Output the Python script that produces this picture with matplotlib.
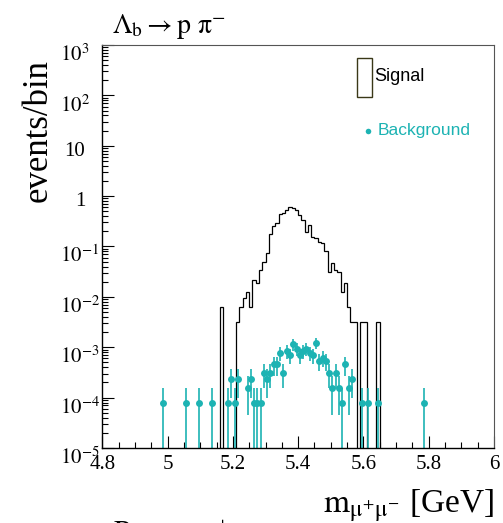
import numpy as np
import matplotlib
matplotlib.use('Agg')
import matplotlib.pyplot as plt
import matplotlib.transforms as mtrans
from matplotlib.patches import Rectangle
from matplotlib.ticker import FixedLocator, MultipleLocator, LogLocator, NullFormatter, FuncFormatter

# binning: 0.01 GeV bins from 4.8 to 6.0
m_lo = 4.8
m_hi = 6.0
bin_w = 0.01

# signal histogram (weighted), contiguous part starting at 5.21
sig_main_start = 5.21
sig_main = [0.0031, 0.0063, 0.0094, 0.0126, 0.0063, 0.0219, 0.0188, 0.034, 0.050, 0.073,
            0.18, 0.254, 0.29, 0.45, 0.47, 0.53, 0.60, 0.58, 0.52, 0.43,
            0.33, 0.19, 0.27, 0.157, 0.145, 0.122, 0.115, 0.08, 0.031, 0.047,
            0.034, 0.031, 0.0126, 0.019, 0.0063, 0.0031, 0.0031]
# isolated signal bins (lower edge, value)
sig_extra_mass = [5.16, 5.59, 5.60, 5.64]
sig_extra_vals = [0.0063, 0.0031, 0.0031, 0.0031]

# background: lower bin edge and raw counts, weight per event
bkg_mass = [4.98, 5.05, 5.09, 5.13, 5.18, 5.19, 5.20, 5.21,
            5.24, 5.25, 5.26, 5.27, 5.28, 5.29, 5.30, 5.31, 5.32, 5.33, 5.34,
            5.35, 5.36, 5.37, 5.38, 5.39, 5.40, 5.41, 5.42, 5.43, 5.44, 5.45,
            5.46, 5.47, 5.48, 5.49, 5.50, 5.51, 5.52, 5.53, 5.54, 5.55, 5.56,
            5.59, 5.61, 5.64, 5.78]
bkg_counts = [1, 1, 1, 1, 1, 3, 1, 3,
              2, 3, 1, 1, 1, 4, 3, 4, 6, 6, 10,
              4, 11, 9, 15, 12, 9, 11, 12, 10, 9, 16,
              7, 8, 7, 4, 2, 4, 2, 1, 6, 2, 3,
              1, 1, 1, 1]
bkg_weight = 7.7e-5

x_ticks = [4.8, 5.0, 5.2, 5.4, 5.6, 5.8, 6.0]
y_exps = [-5, -4, -3, -2, -1, 0, 1, 2, 3]

teal = '#1db3b3'

plt.rcParams['font.family'] = 'serif'
plt.rcParams['font.serif'] = ['Liberation Serif', 'DejaVu Serif']
plt.rcParams['mathtext.fontset'] = 'stix'

nb = int(round((m_hi - m_lo) / bin_w))
edges = m_lo + bin_w * np.arange(nb + 1)
sig = np.zeros(nb)
i0 = int(round((sig_main_start - m_lo) / bin_w))
sig[i0:i0 + len(sig_main)] = sig_main
for m, v in zip(sig_extra_mass, sig_extra_vals):
    sig[int(round((m - m_lo) / bin_w))] = v

fig = plt.figure(figsize=(5.03, 5.23), dpi=100)
ax = fig.add_axes([0.2034, 0.1434, 0.7787, 0.7706])

floor = 1e-9
ax.stairs(np.where(sig > 0, sig, floor), edges, baseline=floor, color='black', lw=0.9)

bx = np.array(bkg_mass) + bin_w / 2
n = np.array(bkg_counts, dtype=float)
by = n * bkg_weight
err = np.sqrt(n) * bkg_weight
lo = np.where(n == 1, by - floor, err)
ax.errorbar(bx, by, yerr=[lo, err], fmt='o', color=teal, ms=5, elinewidth=1.2,
            capsize=0, mew=0)

ax.set_yscale('log')
ax.set_xlim(m_lo, m_hi)
ax.set_ylim(1e-5, 1e3)

ax.xaxis.set_major_locator(FixedLocator(x_ticks))
ax.xaxis.set_minor_locator(MultipleLocator(0.05))
ax.xaxis.set_major_formatter(FuncFormatter(lambda v, p: '%g' % round(v, 2)))
ax.yaxis.set_major_locator(LogLocator(base=10, numticks=20))
ax.yaxis.set_minor_locator(LogLocator(base=10, subs=np.arange(2, 10), numticks=200))
ax.yaxis.set_major_formatter(NullFormatter())
ax.yaxis.set_minor_formatter(NullFormatter())
ax.tick_params(which='both', direction='in', top=False, right=False, width=0.8)
ax.tick_params(which='major', length=8.5, labelsize=15, pad=5)
ax.tick_params(which='minor', length=4.3)
for s in ['left', 'bottom']:
    ax.spines[s].set_linewidth(1.0)
for s in ['top', 'right']:
    ax.spines[s].set_linewidth(0.8)
    ax.spines[s].set_color('#555555')

# y tick labels in ROOT style
ytr = ax.get_yaxis_transform()
for e in y_exps:
    if e in (0, 1):
        txt = '1' if e == 0 else '10'
        off = mtrans.ScaledTranslation(0, -7.2 / 72, fig.dpi_scale_trans)
        ax.text(-0.044, 10.0 ** e, txt, transform=ytr + off, ha='right', va='baseline',
                fontsize=15)
    else:
        off = mtrans.ScaledTranslation(0, -11.5 / 72, fig.dpi_scale_trans)
        ax.text(-0.108, 10.0 ** e, r'$10^{%d}$' % e, transform=ytr + off, ha='left',
                va='baseline', fontsize=15)

# legend drawn by hand
ax.add_patch(Rectangle((0.6495, 0.870), 0.0383, 0.0968, transform=ax.transAxes,
                       fill=False, edgecolor='#3a3818', lw=1.0, clip_on=False))
ax.text(0.6937, 0.923, 'Signal', transform=ax.transAxes, ha='left', va='center',
        fontsize=13, family='Liberation Sans', color='black')
ax.plot([0.6776], [0.7866], 'o', color=teal, ms=4, mew=0, transform=ax.transAxes)
ax.text(0.703, 0.7866, 'Background', transform=ax.transAxes, ha='left', va='center',
        fontsize=12.5, family='Liberation Sans', color=teal)

fig.text(112 / 503, 1 - 33 / 523, r'$\Lambda_{\mathrm{b}} \rightarrow \mathrm{p}\ \mathrm{\pi}^{\mathrm{-}}$',
         ha='left', va='baseline', fontsize=20)
fig.text(38 / 503, 1 - 131 / 523, 'events/bin', rotation=90, ha='center', va='center',
         fontsize=25)
fig.text(494 / 503, 1 - 513 / 523, r'$\mathrm{m}_{\mathrm{\mu^{+}\mu^{-}}}$ [GeV]', ha='right',
         va='baseline', fontsize=24)
fig.text(113 / 503, 1 - 541 / 523, r'$\mathrm{B} \rightarrow \mathrm{\pi}^{-}\ \mathrm{\mu}^{+}\ \mathrm{\mu}^{-}$',
         ha='left', va='baseline', fontsize=20)

fig.savefig('out.png', dpi=100)
